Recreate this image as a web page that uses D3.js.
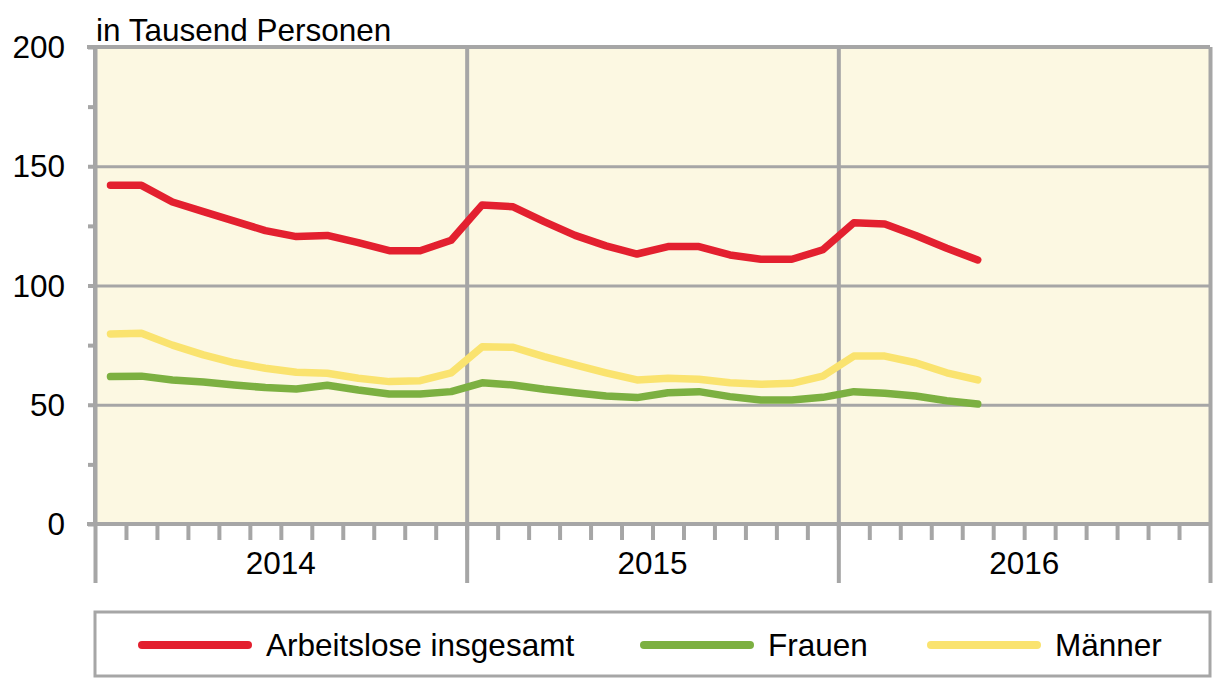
<!DOCTYPE html>
<html>
<head>
<meta charset="utf-8">
<script src="https://cdn.jsdelivr.net/npm/d3@7"></script>
<style>
  body { margin: 0; background: #fff; }
  svg { display: block; font-family: 'Liberation Sans', Arial, sans-serif; }
</style>
</head>
<body>
<div id="chart"></div>
<script>
// monthly values, Jan 2014 - May 2016 (in Tausend Personen)
const years = ['2014', '2015', '2016']
const insgesamt = [142, 142, 135, 131, 127, 123, 120.5, 121, 118, 114.6, 114.6, 119,
  133.8, 133, 126.8, 121, 116.6, 113.2, 116.3, 116.3, 112.8, 111, 111, 115,
  126.3, 125.8, 121, 115.6, 110.7]
const frauen = [61.8, 62, 60.4, 59.5, 58.3, 57.2, 56.6, 58.2, 56.2, 54.5, 54.5, 55.5,
  59.2, 58.3, 56.5, 55, 53.7, 53, 55, 55.5, 53.4, 52, 52, 53.1,
  55.5, 54.8, 53.7, 51.7, 50.3]
const maenner = [79.7, 80, 75, 70.9, 67.6, 65.3, 63.6, 63.2, 61.1, 59.7, 60.1, 63.4,
  74.3, 74.1, 70.2, 66.7, 63.4, 60.4, 61.1, 60.7, 59.2, 58.6, 59, 62,
  70.4, 70.4, 67.6, 63.4, 60.4]
const yTicks = [0, 50, 100, 150, 200]
const seriesNames = ['Arbeitslose insgesamt', 'Frauen', 'Männer']

const colors = ['#e3202f', '#7cb041', '#fae36f']
const grey = '#a6a6a6'
const fontSize = 31.5

const width = 1214
const height = 679
const margin = { left: 95, right: 4, top: 47, bottom: 155 }

const svg = d3.select('#chart').append('svg')
  .attr('width', width)
  .attr('height', height)

const x = d3.scaleLinear()
  .domain([0, years.length * 12])
  .range([margin.left, width - margin.right])

const y = d3.scaleLinear()
  .domain([0, 200])
  .range([height - margin.bottom, margin.top])

// plot background
svg.append('rect')
  .attr('x', x(0))
  .attr('y', y(200))
  .attr('width', x(36) - x(0))
  .attr('height', y(0) - y(200))
  .attr('fill', '#fcf8e2')

// horizontal grid
svg.append('g')
  .attr('transform', `translate(${x(0)},0)`)
  .call(d3.axisLeft(y).tickValues(yTicks).tickSize(-(x(36) - x(0))).tickFormat(''))
  .call(g => g.select('.domain').remove())
  .call(g => g.selectAll('line').attr('stroke', grey).attr('stroke-width', 3))

// vertical year lines, down through the x axis area
svg.append('g')
  .attr('transform', `translate(0,${y(200)})`)
  .call(d3.axisBottom(x).tickValues([0, 12, 24, 36]).tickSize(y(0) - y(200) + 59).tickFormat(''))
  .call(g => g.select('.domain').remove())
  .call(g => g.selectAll('line').attr('stroke', grey).attr('stroke-width', 4))

// month ticks
svg.append('g')
  .attr('transform', `translate(0,${y(0)})`)
  .call(d3.axisBottom(x).tickValues(d3.range(1, 36)).tickSize(16).tickFormat(''))
  .call(g => g.select('.domain').attr('stroke', grey).attr('stroke-width', 4)
    .attr('d', `M${x(0) - 8},0H${x(36)}`))
  .call(g => g.selectAll('line').attr('stroke', grey).attr('stroke-width', 4))

// year labels
svg.append('g')
  .selectAll('text')
  .data(years)
  .join('text')
  .attr('x', (d, i) => x(i * 12 + 6))
  .attr('y', 574)
  .attr('text-anchor', 'middle')
  .attr('font-size', fontSize)
  .attr('fill', '#000')
  .text(d => d)

// y axis
svg.append('g')
  .attr('transform', `translate(${x(0)},0)`)
  .call(d3.axisLeft(y).tickValues(d3.range(0, 201, 25)).tickSize(7).tickPadding(23)
    .tickFormat(d => d % 50 === 0 ? d : ''))
  .call(g => g.select('.domain').attr('stroke', grey).attr('stroke-width', 4)
    .attr('d', `M0,${y(0)}V${y(200)}`))
  .call(g => g.selectAll('line').attr('stroke', grey).attr('stroke-width', 4))
  .call(g => g.selectAll('text').attr('font-size', fontSize).attr('fill', '#000')
    .attr('font-family', "'Liberation Sans', Arial, sans-serif").attr('dy', '0.34em'))

// top border
svg.append('line')
  .attr('x1', x(0) - 8).attr('x2', x(36))
  .attr('y1', y(200)).attr('y2', y(200))
  .attr('stroke', grey).attr('stroke-width', 4)

// unit label
svg.append('text')
  .attr('x', 96)
  .attr('y', 41)
  .attr('font-size', fontSize)
  .attr('fill', '#000')
  .text('in Tausend Personen')

// lines
const line = d3.line()
  .x((d, i) => x(i + 0.5))
  .y(d => y(d))

const allSeries = [insgesamt, frauen, maenner]
svg.append('g')
  .selectAll('path')
  .data(allSeries)
  .join('path')
  .attr('d', line)
  .attr('fill', 'none')
  .attr('stroke', (d, i) => colors[i])
  .attr('stroke-width', 7.5)
  .attr('stroke-linejoin', 'round')
  .attr('stroke-linecap', 'round')

// legend
svg.append('rect')
  .attr('x', 95)
  .attr('y', 612)
  .attr('width', 1115)
  .attr('height', 64)
  .attr('fill', '#fff')
  .attr('stroke', grey)
  .attr('stroke-width', 3)

const legendX = [142, 644, 931]
const legend = svg.append('g')
  .selectAll('g')
  .data(seriesNames)
  .join('g')
  .attr('transform', (d, i) => `translate(${legendX[i]},645)`)

legend.append('line')
  .attr('x1', 0).attr('x2', 106)
  .attr('stroke', (d, i) => colors[i])
  .attr('stroke-width', 8)
  .attr('stroke-linecap', 'round')

legend.append('text')
  .attr('x', 124)
  .attr('y', 11)
  .attr('font-size', fontSize)
  .attr('fill', '#000')
  .text(d => d)
</script>
</body>
</html>
